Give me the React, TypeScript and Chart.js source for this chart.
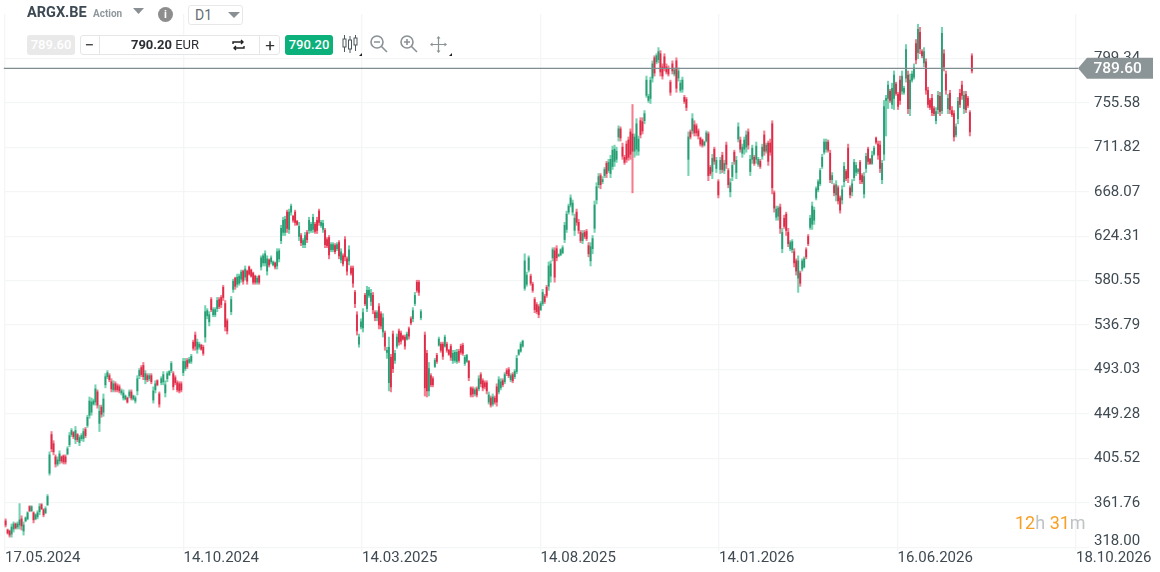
import React, { useEffect, useRef } from "react";
import { Chart, registerables } from "chart.js";

Chart.register(...registerables);

type Candle = [number, number, number, number] | null;

// each candle: open, high, low, close (EUR)
const span2024a: Candle[] = [[344,346,338,340],[335,336,331,332],[334,335,328,330],[331,341,328,338],[336,343,333,341],[341,342,336,337],[338,343,336,341],[340,361,336,345],[346,349,335,339],[334,343,330,340],[344,348,343,347],[346,353,345,352],[358,359,353,354],[354,359,353,358],[352,353,342,345],[346,351,345,350],[348,354,346,352],[353,361,350,358],[360,361,355,356],[355,356,348,350],[352,358,351,356],[360,370,359,368],[391,412,389,409],[429,432,412,415],[420,423,409,412],[407,409,397,400],[400,407,398,404],[403,413,400,410],[407,408,401,403],[408,409,400,402]];
const span2024b: Candle[] = [[407,409,400,402],[410,417,409,415],[419,431,417,428],[429,435,427,433],[431,432,425,427],[424,437,420,433],[429,430,422,424],[421,428,418,426],[425,430,423,428],[425,435,422,432],[434,436,426,428],[438,448,436,446],[448,466,445,462],[451,465,448,461],[459,464,458,462],[461,478,458,474],[471,473,455,458],[440,458,432,452],[456,458,446,449],[451,469,447,464],[478,489,475,486],[486,492,484,490],[487,489,481,483],[481,484,471,474],[473,482,471,479],[479,481,471,473],[477,479,471,473],[476,478,470,472],[470,474,468,472],[465,473,463,470]];
const span2024c: Candle[] = [[464,468,463,467],[465,466,460,461],[467,473,465,471],[471,473,463,465],[464,468,463,467],[462,467,460,465],[472,487,468,484],[487,494,484,492],[495,497,486,488],[497,500,483,486],[483,492,479,489],[487,489,481,483],[484,489,482,487],[487,489,479,481],[463,476,460,472],[473,482,470,479],[482,483,477,478],[469,471,456,459],[480,486,478,484],[481,491,478,488],[470,482,466,478],[484,491,481,489],[488,492,487,491],[492,501,490,499],[489,491,473,476],[485,487,478,480],[480,482,471,473],[479,481,470,472],[479,481,471,473],[490,504,487,501]];
const span2024d: Candle[] = [[494,504,492,501],[502,504,494,496],[500,505,499,503],[501,508,499,506],[520,522,512,514],[527,530,512,516],[513,523,509,520],[515,520,513,518],[517,518,512,513],[515,517,507,509],[525,556,520,550],[546,553,543,551],[540,550,536,547],[562,564,550,552],[547,554,545,552],[547,554,545,552],[553,564,550,561],[562,564,553,555],[564,566,554,557],[574,576,561,564],[558,561,531,535],[541,543,528,531],null,[550,565,547,562],[572,582,569,580],[583,584,572,575],[577,587,574,584],[578,587,576,585],[582,591,579,589],[590,591,577,580]];
const span2025a: Candle[] = [[584,595,581,592],[590,591,577,580],[594,595,586,587],[591,592,584,585],[588,589,577,579],[585,586,577,579],[579,585,577,583],[585,586,577,579],[594,605,591,603],[598,607,595,605],[598,610,595,607],[590,605,586,602],[601,602,594,596],[599,605,597,603],[596,600,595,599],[598,599,592,594],[595,612,592,609],[602,612,599,610],[620,635,617,632],[628,643,625,640],[628,644,625,641],[648,650,628,632],[631,651,627,648],[648,656,645,654],[644,645,638,640],[648,650,635,638],[639,640,635,636],[624,638,620,634],[625,627,615,618],[616,622,613,620],[616,628,613,625],[628,630,618,621]];
const span2025b: Candle[] = [[630,643,627,640],[630,638,628,636],[631,646,628,643],[636,638,627,629],[640,643,627,630],[649,651,635,638],[635,640,633,638],[631,640,628,637],[630,632,613,616],[621,623,613,615],[623,625,602,606],[611,618,609,616],[611,618,609,616],[615,617,607,609],[612,618,610,616],[618,620,602,605],[601,612,598,609],[605,607,595,597],[621,624,600,604],[602,604,586,590],[600,615,596,611],[593,595,586,588],[593,595,574,578],[569,571,554,558],[547,550,527,531],[518,528,515,525],[535,543,533,540],[534,553,530,549],[566,568,556,558],[553,575,550,571],[566,574,564,571],[560,572,556,568],[566,569,548,552],[549,551,541,544],[544,551,541,549],[555,558,533,537],[548,550,533,536],[530,548,525,544],[529,531,512,516],[510,515,504,512],[480,525,472,515],[505,508,471,476],[528,531,490,494],[502,512,499,509],[516,528,514,525],[531,533,517,520],[529,531,518,521],[526,527,522,523],[525,527,513,516],[523,530,522,528],[533,535,523,526],[543,545,537,539],[543,554,540,551],[558,569,556,566],[579,581,569,571],[579,581,566,569],[544,552,542,550],null,[527,530,467,475],[509,512,466,472],[472,500,467,494],[487,489,476,478],[484,486,476,478],[496,504,495,502],[507,509,499,501],[517,525,516,523],[518,520,510,512]];
const span2025c: Candle[] = [[518,520,503,506],[516,527,515,525],[518,520,510,512],[512,513,507,508],[516,518,502,505],[502,512,499,509],[502,512,500,510],[501,513,499,510],[511,513,500,502],[516,518,508,510],[517,519,507,509],[499,507,497,505],[501,508,500,507],[501,502,482,485],[475,476,466,468],[474,476,466,469],[469,475,467,473],[474,476,466,468],[474,487,472,484],[488,490,476,479],[482,484,472,475],[480,482,474,476],[480,482,469,472],[461,471,459,468],[465,467,456,458],[459,469,457,466],[465,467,459,461],[476,479,457,461],[471,486,469,483],[475,484,473,481],[482,484,476,478],[481,490,479,488],[492,494,487,489],[493,495,485,487],[483,489,481,487],[488,490,480,482],[486,493,484,491],[491,507,489,504],[508,513,507,512],[511,520,510,518],[516,522,515,521],[573,607,571,600],[577,589,575,586],[591,605,589,603],[585,587,576,578],[577,579,569,571],[562,564,549,552],[557,559,548,550],[555,557,544,547],[552,560,551,558],[558,572,556,569],[565,567,558,560],[574,576,564,566],[575,599,571,595],[585,600,579,597],[603,613,600,611],[610,613,579,584],[612,615,600,603],[605,607,604,606],[606,612,605,611],[608,615,607,613]];
const span2025d: Candle[] = [[621,638,618,635],[631,649,628,646],[648,656,646,654],[655,665,653,662],[648,660,645,657],[630,646,625,642],[648,651,635,638],[638,641,627,630],[628,630,618,620],[620,630,617,627],[628,630,622,624],[629,631,620,622],[615,618,604,607],[600,618,595,614],[612,625,607,622],[632,659,628,655],[660,677,656,673],[675,686,672,683],[684,686,671,675],[678,683,676,680],[684,692,682,690],[696,698,682,686],[689,700,687,697],[686,704,682,700],[693,713,690,709],[698,714,693,710],[700,712,697,708],[722,733,718,730],[730,732,718,721],[712,716,700,703],[702,704,695,697],[715,718,697,700],[719,722,699,702],[727,730,700,705],[725,754,667,708],[708,725,702,722],[710,740,704,735],[708,723,704,720],[738,741,721,724],[737,741,725,728],[738,748,735,745],[763,782,761,778],[758,764,756,762],[760,781,755,778],[780,797,776,794],[800,802,782,785],[796,804,794,802],[798,810,795,806],[804,807,782,786],[791,794,779,782],[801,804,787,790],[791,794,784,786],[789,792,782,784],[776,778,763,766],[794,797,784,787],[784,790,782,788],[797,800,766,770],[780,790,777,787],[768,778,766,775],[769,781,766,778],[761,763,755,757],[759,761,748,751]];
const span2026a: Candle[] = [[700,727,684,722],[727,729,720,722],[728,745,725,740],[734,738,723,726],[733,735,723,726],[728,730,720,723],[721,722,713,715],[719,720,712,714],[714,718,713,717],[718,728,717,726],[725,727,679,684],[692,694,684,686],[688,705,681,701],[710,712,695,698],[691,702,687,699],[678,680,662,665],[690,702,686,699],[704,707,687,690],[689,699,686,696],[714,717,691,695],[689,691,672,675],[668,681,663,677],[683,697,679,694],[707,709,695,698],[687,703,681,699],[720,736,717,732],[719,722,707,710],[706,715,702,712],[710,722,705,719],[712,728,707,724],[727,730,710,714],[688,704,684,700],[700,714,696,711],[702,704,694,696],[700,717,696,713],[695,702,693,700],[698,700,691,693],[703,715,700,712],[724,728,704,708],[708,716,706,714],[716,718,694,698],[716,720,704,707],[735,738,666,672],[667,669,648,652],[643,654,640,651],[644,654,640,652],[653,656,627,632],[612,632,608,628],[642,645,632,634],[646,648,625,630],[628,632,614,617],[612,620,610,618],[611,621,608,619],[609,612,594,598],[600,602,586,590],[583,605,569,600],[588,590,575,578],[592,602,590,600],[594,604,593,602],[611,613,602,604],[624,626,615,617],[633,645,631,642],[636,658,631,654],[640,653,636,650],[662,673,660,671],[670,680,668,678],[676,691,674,689],[693,705,691,702],[707,720,705,717],[710,720,707,717],[717,719,707,709],[706,709,677,680],[680,687,676,684],[674,676,664,667],[665,679,659,675],[672,674,656,659],[662,664,647,650],[660,674,656,670],[678,697,673,693],[688,690,679,681],[711,715,677,682],[672,674,662,665],[668,680,664,676],[682,700,679,697],[687,697,684,694],[688,691,686,690],[697,699,676,680],[684,686,676,678],[666,687,662,683],[691,706,687,703],[710,712,695,698],[700,701,695,696],[696,708,695,704],[705,713,704,711]];
const span2026b: Candle[] = [[721,722,715,717],[715,718,700,704],[714,718,687,691],[680,699,676,696],[705,758,699,752],[758,763,723,760],[760,777,750,773],[767,769,756,758],[754,775,750,770],[760,787,749,783],[774,776,763,765],[764,766,749,752],[778,782,754,758],[767,787,764,782],[766,772,764,770],[780,813,776,808],[783,787,745,750],[750,784,743,778],[778,787,776,784],[781,794,779,790],[814,818,794,798],[805,833,799,828],[825,830,804,809],[806,808,800,802],[795,810,791,806],[796,799,764,768],[768,771,751,754],[758,760,749,751],[760,764,743,746],[750,752,743,745],[738,751,735,747],[749,767,745,763],[762,766,743,747],[748,830,745,824],[804,808,787,791],[784,787,764,768],[750,764,745,760],[765,768,745,749],[748,752,742,744],[745,748,718,722],[724,735,722,732],[740,761,735,757],[765,769,751,754],[773,777,759,763],[750,767,745,763],[764,767,746,749],[760,762,751,753],[746,748,723,727],[802,804,785,787]];

// x and y axis labels
const dateLabels = ["17.05.2024", "14.10.2024", "14.03.2025", "14.08.2025", "14.01.2026", "16.06.2026", "18.10.2026"];
const priceTicks = [318.0, 361.76, 405.52, 449.28, 493.03, 536.79, 580.55, 624.31, 668.07, 711.82, 755.58, 799.34];
const priceTop = 843.1;
const lastPrice = 789.6;
const bidPrice = "789.60";
const askPrice = "790.20";

const candles: Candle[] = [
  ...span2024a, ...span2024b, ...span2024c, ...span2024d,
  ...span2025a, ...span2025b, ...span2025c, ...span2025d,
  ...span2026a, ...span2026b,
];

const UP_WICK = "rgba(70,195,150,0.75)";
const UP_BODY = "#2a9c74";
const DOWN_WICK = "rgba(240,80,105,0.75)";
const DOWN_BODY = "#dc2c48";
const GRID = "#f3f5f6";
const TEXT = "#3f4a52";

const pxPerCandle = (972 - 5.7) / (candles.length - 1);
const tickStep = 178.5 / pxPerCandle;
const axisMax = (1089 - 5) / pxPerCandle;

const priceTag = {
  id: "priceTag",
  afterDraw(chart: any) {
    const y = chart.scales.y.getPixelForValue(lastPrice);
    const c = chart.ctx;
    c.save();
    c.fillStyle = "#8b9497";
    c.beginPath();
    c.moveTo(1078, y);
    c.lineTo(1087, y - 10.5);
    c.lineTo(1153, y - 10.5);
    c.lineTo(1153, y + 10.5);
    c.lineTo(1087, y + 10.5);
    c.closePath();
    c.fill();
    c.fillStyle = "#ffffff";
    c.font = "500 15.5px Roboto";
    c.textBaseline = "middle";
    c.fillText(bidPrice, 1093.5, y + 1);
    c.restore();
  },
};

const box: React.CSSProperties = { position: "absolute", boxSizing: "border-box", fontFamily: "Roboto, sans-serif" };

function Tri({ x, y, w = 11, h = 6, color = "#8a8f93" }: { x: number; y: number; w?: number; h?: number; color?: string }) {
  return (
    <svg style={{ position: "absolute", left: x, top: y }} width={w} height={h}>
      <polygon points={`0,0 ${w},0 ${w / 2},${h}`} fill={color} />
    </svg>
  );
}

function Toolbar() {
  const ic = "#8a9296";
  return (
    <>
      <div style={{ ...box, left: 27, top: 4, fontSize: 14.5, fontWeight: 700, color: "#3d4a54", lineHeight: "18px" }}>ARGX.BE</div>
      <div style={{ ...box, left: 93, top: 7, fontSize: 10, fontWeight: 700, color: "#8f979c", lineHeight: "14px" }}>Action</div>
      <Tri x={133} y={8} />
      <div style={{ ...box, left: 158, top: 7, width: 15, height: 15, borderRadius: 8, background: "#8d8d8d", color: "#fff", fontSize: 11, fontWeight: 700, textAlign: "center", lineHeight: "15px" }}>i</div>
      <div style={{ ...box, left: 188, top: 5, width: 55, height: 20, border: "1px solid #e6e8ea", borderRadius: 3, background: "#fff", fontSize: 14, color: "#666d72", paddingLeft: 6, lineHeight: "19px" }}>D1</div>
      <Tri x={228} y={12} w={12} />
      <div style={{ ...box, left: 27, top: 35, width: 48, height: 20, borderRadius: 3, background: "#e9e9e9", color: "#fff", fontSize: 13, fontWeight: 500, textAlign: "center", lineHeight: "20px" }}>{bidPrice}</div>
      <div style={{ ...box, left: 80, top: 35, width: 200, height: 20, border: "1px solid #e4e6e8", borderRadius: 3, background: "#fff" }} />
      <div style={{ ...box, left: 99, top: 35, width: 1, height: 20, background: "#e4e6e8" }} />
      <div style={{ ...box, left: 259, top: 35, width: 1, height: 20, background: "#e4e6e8" }} />
      <div style={{ ...box, left: 80, top: 35, width: 19, fontSize: 17, color: "#333", textAlign: "center", lineHeight: "20px" }}>−</div>
      <div style={{ ...box, left: 100, top: 35, width: 130, fontSize: 13, color: "#2b2f33", textAlign: "center", lineHeight: "20px" }}><b>{askPrice}</b> EUR</div>
      <svg style={{ position: "absolute", left: 232, top: 39 }} width="13" height="12" viewBox="0 0 13 12" fill="none" stroke="#222" strokeWidth="1.4">
        <path d="M1 5V3h10M9 1l2 2-2 2M12 7v2H2M4 11L2 9l2-2" />
      </svg>
      <div style={{ ...box, left: 260, top: 35, width: 20, fontSize: 17, color: "#333", textAlign: "center", lineHeight: "20px" }}>+</div>
      <div style={{ ...box, left: 285, top: 35, width: 48, height: 20, borderRadius: 3, background: "#0bb07a", color: "#fff", fontSize: 13, fontWeight: 500, textAlign: "center", lineHeight: "20px" }}>{askPrice}</div>
      <svg style={{ position: "absolute", left: 342, top: 34 }} width="16" height="20" viewBox="0 0 16 20" fill="none" stroke="#4d565c" strokeWidth="1">
        <path d="M2.5 1v17M8 2v17M13.5 1v16" />
        <rect x="1" y="5" width="3" height="8" fill="#fff" />
        <rect x="6.5" y="6" width="3" height="9" fill="#fff" />
        <rect x="12" y="4" width="3" height="7" fill="#fff" />
      </svg>
      <svg style={{ position: "absolute", left: 369, top: 34 }} width="19" height="19" viewBox="0 0 19 19" fill="none" stroke={ic} strokeWidth="1.6">
        <circle cx="8" cy="8" r="6" /><path d="M12.5 12.5L18 18M5 8h6" />
      </svg>
      <svg style={{ position: "absolute", left: 399, top: 34 }} width="19" height="19" viewBox="0 0 19 19" fill="none" stroke={ic} strokeWidth="1.6">
        <circle cx="8" cy="8" r="6" /><path d="M12.5 12.5L18 18M5 8h6M8 5v6" />
      </svg>
      <svg style={{ position: "absolute", left: 430, top: 36 }} width="17" height="17" viewBox="0 0 17 17" fill={ic} stroke={ic} strokeWidth="1.2">
        <path d="M1 8.5h15M8.5 1v15" /><path d="M8.5 0l2 2.5h-4zM8.5 17l2-2.5h-4zM0 8.5l2.5 2v-4zM17 8.5l-2.5 2v-4z" strokeWidth="0" />
      </svg>
      <svg style={{ position: "absolute", left: 359, top: 53 }} width="3" height="3"><polygon points="3,0 3,3 0,3" fill="#222" /></svg>
      <svg style={{ position: "absolute", left: 449, top: 53 }} width="3" height="3"><polygon points="3,0 3,3 0,3" fill="#222" /></svg>
      <div style={{ ...box, left: 1015, top: 512, fontSize: 18, lineHeight: "22px", whiteSpace: "nowrap", color: "#bfc3c6" }}>
        <span style={{ color: "#f7a026" }}>12</span>h <span style={{ color: "#f7a026" }}>31</span>m
      </div>
    </>
  );
}

export default function App() {
  const ref = useRef<HTMLCanvasElement>(null);
  useEffect(() => {
    if (!ref.current) return;
    const rows = candles.map((c, i) => ({ c, i })).filter((r) => r.c) as { c: [number, number, number, number]; i: number }[];
    const isUp = (c: [number, number, number, number]) => c[3] >= c[0];
    const chart = new Chart(ref.current, {
      type: "bar",
      data: {
        datasets: [
          {
            type: "line",
            data: [{ x: -0.6, y: lastPrice }, { x: (1078 - 5) / pxPerCandle, y: lastPrice }],
            borderColor: "#7f8c90",
            borderWidth: 1.3,
            pointRadius: 0,
            clip: false,
            order: 0,
          } as any,
          {
            data: rows.map((r) => ({ x: r.i + 0.3, y: [Math.min(r.c[0], r.c[3]), Math.max(r.c[0], r.c[3])] })),
            backgroundColor: rows.map((r) => (isUp(r.c) ? UP_BODY : DOWN_BODY)),
            barThickness: 1.1,
            grouped: false,
            clip: false,
            order: 1,
          } as any,
          {
            data: rows.map((r) => ({ x: r.i + 0.3, y: [r.c[2], r.c[1]] })),
            backgroundColor: rows.map((r) => (isUp(r.c) ? UP_WICK : DOWN_WICK)),
            barThickness: 1.4,
            grouped: false,
            clip: false,
            order: 2,
          } as any,
        ],
      },
      options: {
        animation: false,
        responsive: false,
        events: [],
        layout: { padding: { left: 5, top: 13.2, right: 0, bottom: 0 } },
        plugins: { legend: { display: false }, tooltip: { enabled: false } },
        scales: {
          x: {
            type: "linear",
            offset: false,
            min: 0,
            max: axisMax,
            grid: { color: GRID, lineWidth: 1.3, drawTicks: true, tickLength: 4, offset: false },
            border: { display: false },
            afterBuildTicks: (s: any) => {
              s.ticks = dateLabels.map((_, k) => ({ value: k * tickStep }));
            },
            afterFit: (s: any) => {
              s.height = 24.7;
              s.paddingLeft = 0;
              s.paddingRight = 0;
            },
            ticks: {
              autoSkip: false,
              maxRotation: 0,
              align: "start",
              padding: -2,
              color: TEXT,
              font: { family: "Roboto", size: 15 },
              callback: (_v: any, i: number) => dateLabels[i],
            },
          },
          y: {
            type: "linear",
            position: "right",
            min: priceTicks[0],
            max: priceTop,
            grid: { color: GRID, lineWidth: 1.3, drawTicks: false },
            border: { display: false },
            afterBuildTicks: (s: any) => {
              s.ticks = priceTicks.map((value) => ({ value }));
            },
            afterFit: (s: any) => {
              s.width = 71;
            },
            ticks: {
              autoSkip: false,
              padding: 5,
              color: TEXT,
              font: (ctx: any) => ({ family: "Roboto", size: 15, lineHeight: ctx.index === 0 ? 0.8 : 1.2 }),
              callback: (v: any, i: number) => (i === 0 ? [Number(v).toFixed(2), ""] : Number(v).toFixed(2)),
            },
          },
        },
      },
      plugins: [priceTag],
    } as any);
    return () => chart.destroy();
  }, []);
  return (
    <div style={{ position: "fixed", left: 0, top: 0, width: 1160, height: 572, background: "#fff", overflow: "hidden" }}>
      <canvas ref={ref} width={1160} height={572} style={{ position: "absolute", left: 0, top: 0, width: 1160, height: 572 }} />
      <Toolbar />
    </div>
  );
}
